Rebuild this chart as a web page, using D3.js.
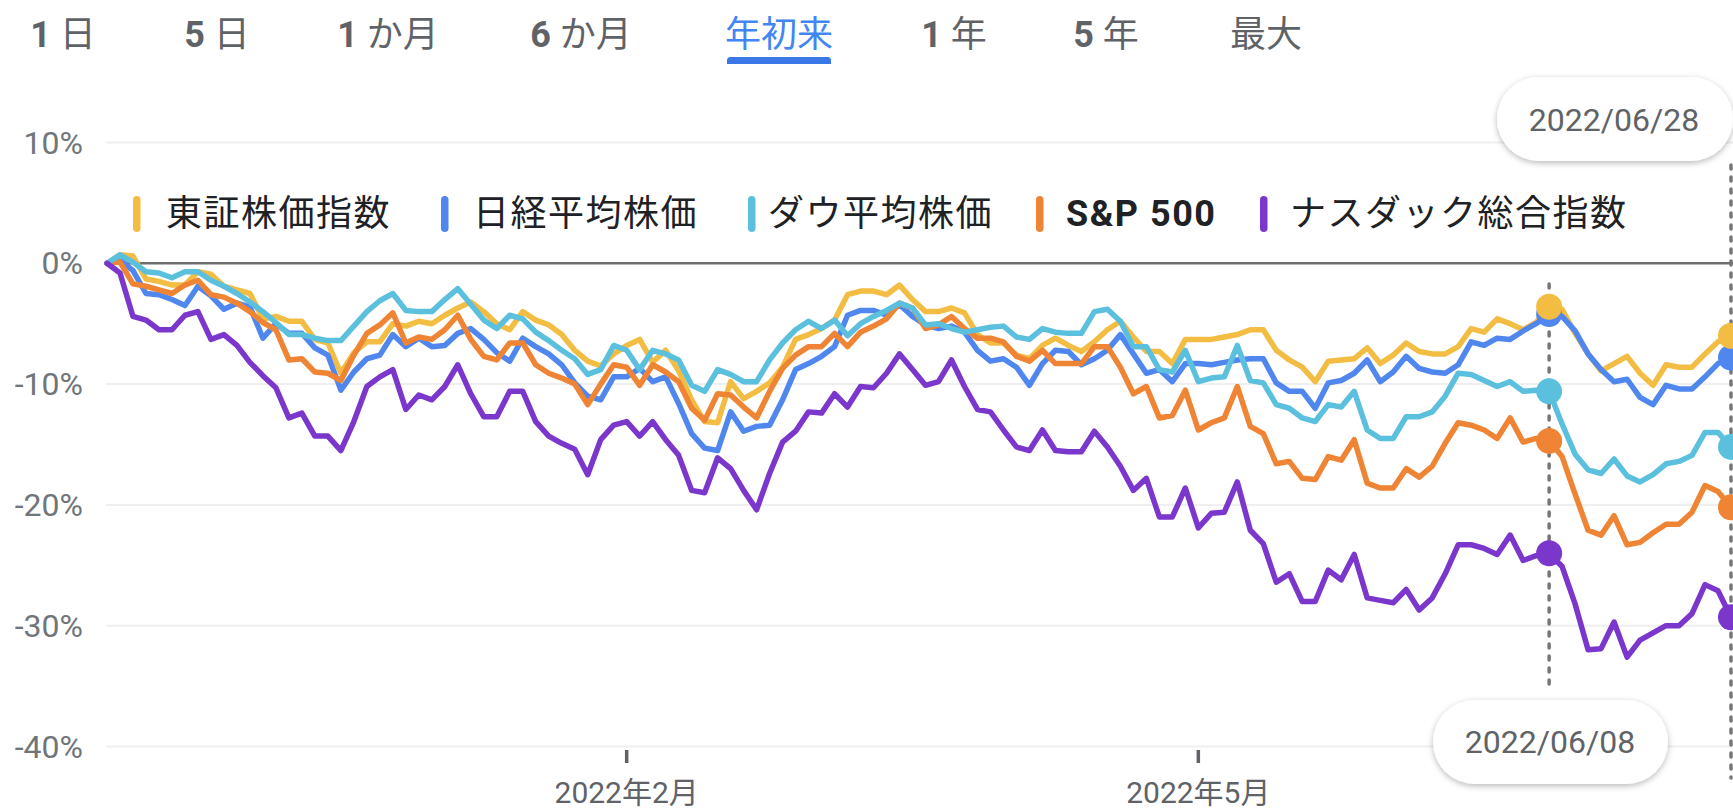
<!DOCTYPE html>
<html>
<head>
<meta charset="utf-8">
<script src="https://cdn.jsdelivr.net/npm/d3@7"></script>
<style>
  html, body { margin: 0; padding: 0; background: #ffffff; }
  svg { display: block; }
  text { font-family: Roboto, "Noto Sans CJK JP", "Noto Sans", sans-serif; }
</style>
</head>
<body>
<svg id="chart" width="1733" height="809"></svg>
<script>
// ---------- DATA ----------
const dates = [
  "2022-01-04","2022-01-05","2022-01-06","2022-01-07","2022-01-10","2022-01-11","2022-01-12","2022-01-13","2022-01-14",
  "2022-01-17","2022-01-18","2022-01-19","2022-01-20","2022-01-21","2022-01-24","2022-01-25","2022-01-26","2022-01-27","2022-01-28","2022-01-31",
  "2022-02-01","2022-02-02","2022-02-03","2022-02-04","2022-02-07","2022-02-08","2022-02-09","2022-02-10","2022-02-11",
  "2022-02-14","2022-02-15","2022-02-16","2022-02-17","2022-02-18","2022-02-21","2022-02-22","2022-02-23","2022-02-24","2022-02-25","2022-02-28",
  "2022-03-01","2022-03-02","2022-03-03","2022-03-04","2022-03-07","2022-03-08","2022-03-09","2022-03-10","2022-03-11",
  "2022-03-14","2022-03-15","2022-03-16","2022-03-17","2022-03-18","2022-03-21","2022-03-22","2022-03-23","2022-03-24","2022-03-25",
  "2022-03-28","2022-03-29","2022-03-30","2022-03-31",
  "2022-04-01","2022-04-04","2022-04-05","2022-04-06","2022-04-07","2022-04-08","2022-04-11","2022-04-12","2022-04-13","2022-04-14","2022-04-15",
  "2022-04-18","2022-04-19","2022-04-20","2022-04-21","2022-04-22","2022-04-25","2022-04-26","2022-04-27","2022-04-28","2022-04-29",
  "2022-05-02","2022-05-03","2022-05-04","2022-05-05","2022-05-06","2022-05-09","2022-05-10","2022-05-11","2022-05-12","2022-05-13",
  "2022-05-16","2022-05-17","2022-05-18","2022-05-19","2022-05-20","2022-05-23","2022-05-24","2022-05-25","2022-05-26","2022-05-27",
  "2022-05-30","2022-05-31",
  "2022-06-01","2022-06-02","2022-06-03","2022-06-06","2022-06-07","2022-06-08","2022-06-09","2022-06-10",
  "2022-06-13","2022-06-14","2022-06-15","2022-06-16","2022-06-17","2022-06-20","2022-06-21","2022-06-22","2022-06-23","2022-06-24",
  "2022-06-27","2022-06-28"
];

// % change since start of year
const topix = [
  0, 0.7, 0.6, -1.3, -1.5, -1.8, -1.8, -0.7, -0.9, -1.9,
  -2.2, -2.5, -4.6, -4.4, -4.8, -4.8, -6.3, -6.6, -9.1, -7.4,
  -6.5, -6.5, -5.0, -5.2, -4.8, -5.0, -4.3, -3.7, -3.2, -4.0,
  -5.0, -5.5, -4.0, -4.7, -5.1, -5.9, -7.2, -8.1, -8.5, -7.5,
  -6.8, -6.3, -8.2, -7.2, -8.9, -11.3, -13.1, -13.2, -9.8, -11.2,
  -10.6, -9.9, -8.6, -6.3, -5.9, -5.4, -4.7, -2.6, -2.3, -2.3,
  -2.6, -1.8, -3.0, -4.0, -4.0, -3.7, -4.1, -5.9, -6.6, -6.6,
  -7.6, -7.9, -6.8, -6.2, -6.8, -7.3, -6.5, -5.5, -4.8, -6.1,
  -7.3, -7.3, -8.3, -6.3, -6.3, -6.3, -6.1, -5.9, -5.5, -5.5,
  -7.2, -8.0, -8.6, -9.8, -8.1, -8.0, -7.9, -7.0, -8.3, -7.6,
  -6.6, -7.3, -7.5, -7.5, -6.9, -5.4, -5.7, -4.6, -5.0, -5.5,
  -4.9, -3.6, -3.8, -5.8, -7.5, -8.9, -8.3, -7.7, -9.1, -10.1,
  -8.4, -8.6, -8.6, -7.5, -6.5, -6.0
];
const nikkei = [
  0, 0.3, -0.6, -2.5, -2.6, -3.0, -3.5, -1.9, -2.7, -3.8,
  -3.3, -3.6, -6.2, -5.0, -5.8, -5.8, -7.0, -7.6, -10.5, -9.0,
  -7.9, -7.6, -5.9, -6.9, -6.2, -6.9, -6.8, -5.8, -5.4, -6.3,
  -7.4, -8.1, -6.2, -6.9, -7.5, -8.4, -9.9, -11.0, -11.3, -9.4,
  -9.4, -8.7, -9.8, -9.4, -11.6, -14.1, -15.3, -15.5, -12.3, -13.9,
  -13.5, -13.4, -11.3, -8.8, -8.3, -7.7, -6.9, -4.3, -3.9, -3.9,
  -4.3, -3.4, -4.4, -5.1, -5.4, -5.2, -5.7, -7.2, -8.1, -7.9,
  -8.6, -10.1, -8.3, -7.2, -7.3, -8.4, -7.9, -7.2, -5.9, -7.5,
  -9.1, -8.8, -9.8, -8.3, -8.3, -8.4, -8.2, -8.0, -7.9, -7.9,
  -9.9, -10.6, -10.6, -12.0, -9.9, -9.7, -9.1, -8.0, -9.8, -9.0,
  -7.7, -8.7, -9.0, -9.1, -8.4, -6.5, -6.8, -6.2, -6.3, -5.6,
  -5.0, -4.2, -4.4, -5.6, -7.5, -8.8, -9.8, -9.6, -11.1, -11.7,
  -10.1, -10.4, -10.4, -9.4, -8.3, -7.8
];
const dow = [
  0, 0.7, 0.1, -0.7, -0.8, -1.2, -0.7, -0.7, -1.4, -1.9,
  -2.5, -3.2, -4.0, -4.9, -5.9, -5.9, -6.2, -6.4, -6.4, -5.2,
  -4.0, -3.1, -2.5, -3.9, -4.0, -4.0, -3.0, -2.1, -3.4, -4.7,
  -5.4, -4.3, -4.6, -5.7, -6.4, -7.2, -7.9, -9.2, -8.8, -6.8,
  -7.2, -8.8, -7.2, -7.5, -8.0, -10.1, -10.6, -8.8, -9.2, -9.8,
  -9.8, -8.0, -6.6, -5.5, -4.8, -5.4, -4.7, -6.0, -5.0, -4.4,
  -3.9, -3.3, -3.7, -5.1, -5.0, -5.4, -5.7, -5.5, -5.3, -5.2,
  -6.1, -6.3, -5.4, -5.7, -5.8, -5.8, -4.0, -3.8, -4.8, -6.9,
  -6.9, -8.8, -9.0, -7.2, -9.8, -9.5, -9.4, -6.8, -9.7, -9.9,
  -11.7, -12.0, -12.8, -13.1, -11.7, -11.9, -10.6, -13.8, -14.5, -14.5,
  -12.7, -12.7, -12.3, -11.0, -9.1, -9.2, -9.7, -10.2, -9.8, -10.6,
  -10.5, -10.6, -13.3, -15.8, -17.1, -17.4, -16.2, -17.6, -18.1, -17.5,
  -16.6, -16.4, -15.9, -14.0, -14.0, -15.2
];
const sp500 = [
  0, 0.1, -1.7, -1.9, -2.2, -2.5, -1.8, -1.4, -2.6, -2.8,
  -3.3, -4.0, -4.9, -5.5, -8.0, -7.9, -9.0, -9.1, -9.7, -7.6,
  -5.8, -5.1, -4.1, -6.6, -6.1, -6.3, -5.5, -4.3, -6.3, -7.7,
  -8.0, -6.6, -6.6, -8.4, -9.1, -9.5, -10.0, -11.7, -10.0, -8.4,
  -8.6, -10.1, -8.4, -9.0, -9.8, -12.0, -13.0, -10.8, -10.9, -11.9,
  -12.8, -10.6, -8.7, -7.6, -6.9, -6.9, -5.8, -6.9, -5.7, -5.2,
  -4.6, -3.3, -3.7, -5.4, -5.1, -4.4, -5.4, -6.2, -6.2, -6.5,
  -7.7, -8.1, -7.2, -8.3, -8.3, -8.3, -6.9, -6.9, -8.6, -10.8,
  -10.2, -12.8, -12.6, -10.5, -13.8, -13.2, -12.8, -10.2, -13.5, -14.1,
  -16.6, -16.4, -17.8, -17.9, -16.0, -16.3, -14.6, -18.2, -18.6, -18.6,
  -17.0, -17.7, -16.8, -14.9, -13.2, -13.4, -13.8, -14.5, -12.8, -14.8,
  -14.5, -14.7, -16.0, -19.1, -22.1, -22.5, -20.9, -23.3, -23.1, -22.3,
  -21.6, -21.6, -20.6, -18.4, -18.9, -20.2
];
const nasdaq = [
  0, -0.8, -4.4, -4.7, -5.5, -5.5, -4.3, -4.0, -6.3, -5.9,
  -6.8, -8.2, -9.3, -10.3, -12.8, -12.4, -14.3, -14.3, -15.5, -13.1,
  -10.2, -9.4, -8.8, -12.1, -10.9, -11.3, -10.2, -8.4, -10.8, -12.7,
  -12.7, -10.6, -10.6, -13.1, -14.3, -14.9, -15.4, -17.5, -14.6, -13.4,
  -13.1, -14.3, -13.1, -14.6, -15.9, -18.8, -19.0, -16.1, -17.0, -18.8,
  -20.4, -17.4, -14.8, -13.9, -12.3, -12.4, -10.8, -11.9, -10.2, -10.3,
  -9.1, -7.5, -8.8, -10.1, -9.8, -8.0, -10.2, -12.1, -12.3, -13.8,
  -15.2, -15.5, -13.8, -15.5, -15.6, -15.6, -13.9, -15.2, -16.8, -18.8,
  -17.8, -21.0, -21.0, -18.6, -21.9, -20.7, -20.6, -18.1, -22.1, -23.2,
  -26.4, -25.7, -28.0, -28.0, -25.4, -26.2, -24.1, -27.7, -27.9, -28.1,
  -27.0, -28.7, -27.7, -25.7, -23.3, -23.3, -23.6, -24.1, -22.5, -24.6,
  -24.2, -24.0, -25.1, -28.2, -32.0, -31.9, -29.7, -32.6, -31.2, -30.6,
  -30.0, -30.0, -29.0, -26.6, -27.1, -29.3
];

const seriesNames  = ["東証株価指数", "日経平均株価", "ダウ平均株価", "S&P 500", "ナスダック総合指数"];
const seriesColors = ["#F2BD42", "#4F87EE", "#5BC0DE", "#EF8434", "#7B36CC"];
const seriesValues = [topix, nikkei, dow, sp500, nasdaq];

const yTicks = [10, 0, -10, -20, -30, -40];
const xTickDates  = ["2022-03-01", "2022-05-02"];
const xTickLabels = ["2022年2月", "2022年5月"];

const tabLabels = ["1 日", "5 日", "1 か月", "6 か月", "年初来", "1 年", "5 年", "最大"];
const activeTab = "年初来";

const markerDates = ["2022-06-08", "2022-06-28"];
const markerLabels = ["2022/06/08", "2022/06/28"];

// ---------- LAYOUT ----------
const W = 1733, H = 809;
const svg = d3.select("#chart");

const x = d3.scalePoint().domain(dates).range([107, 1731]);
const y = d3.scaleLinear().domain([-40, 10]).range([746.5, 142.5]);

const defs = svg.append("defs");
const f = defs.append("filter").attr("id", "shadow")
  .attr("x", "-20%").attr("y", "-30%").attr("width", "140%").attr("height", "170%");
f.append("feDropShadow").attr("dx", 0).attr("dy", 2).attr("stdDeviation", 3)
  .attr("flood-color", "#000").attr("flood-opacity", 0.28);

// ---- tabs ----
const tabCenters = [63, 217, 388, 581, 779, 954, 1106, 1266];
const tabs = svg.append("g");
tabLabels.forEach((lab, i) => {
  const t = tabs.append("text")
    .attr("x", tabCenters[i]).attr("y", 47)
    .attr("text-anchor", "middle")
    .attr("font-size", 36)
    .attr("fill", lab === activeTab ? "#4285F4" : "#5f6368");
  const parts = lab.split(/(\d+)/).filter(s => s.length);
  parts.forEach(p => {
    t.append("tspan").text(p)
      .attr("font-weight", /\d/.test(p) ? 700 : 400);
  });
});
{
  const i = tabLabels.indexOf(activeTab);
  const cx = tabCenters[i], w = 104, h = 7, yTop = 57, r = 3.5;
  const x0 = cx - w / 2;
  tabs.append("path")
    .attr("d", `M${x0},${yTop + h} L${x0},${yTop + r} Q${x0},${yTop} ${x0 + r},${yTop} L${x0 + w - r},${yTop} Q${x0 + w},${yTop} ${x0 + w},${yTop + r} L${x0 + w},${yTop + h} Z`)
    .attr("fill", "#3B78E7");
}

// ---- grid ----
const grid = svg.append("g");
grid.selectAll("line.g").data(yTicks.filter(d => d !== 0)).join("line")
  .attr("x1", 106).attr("x2", W)
  .attr("y1", d => y(d)).attr("y2", d => y(d))
  .attr("stroke", "#efefef").attr("stroke-width", 2);
grid.append("line")
  .attr("x1", 107).attr("x2", W)
  .attr("y1", y(0)).attr("y2", y(0))
  .attr("stroke", "#6e6e6e").attr("stroke-width", 2.5);

grid.selectAll("text.yl").data(yTicks).join("text")
  .attr("x", 83).attr("y", d => y(d) + 11)
  .attr("text-anchor", "end")
  .attr("font-size", 32)
  .attr("fill", "#70757a")
  .text(d => d + "%");

// ---- x axis ticks ----
const xa = svg.append("g");
xTickDates.forEach((d, i) => {
  xa.append("line")
    .attr("x1", x(d)).attr("x2", x(d)).attr("y1", 750).attr("y2", 763)
    .attr("stroke", "#5f6368").attr("stroke-width", 3.5);
  xa.append("text")
    .attr("x", x(d)).attr("y", 803)
    .attr("text-anchor", "middle")
    .attr("font-size", 30)
    .attr("fill", "#5f6368")
    .text(xTickLabels[i]);
});

// ---- vertical dotted guides ----
const guides = svg.append("g");
guides.append("line")
  .attr("x1", x(markerDates[0])).attr("x2", x(markerDates[0]))
  .attr("y1", 284).attr("y2", 686)
  .attr("stroke", "#757575").attr("stroke-width", 3.5)
  .attr("stroke-dasharray", "4 8").attr("stroke-linecap", "round");
guides.append("line")
  .attr("x1", x(markerDates[1])).attr("x2", x(markerDates[1]))
  .attr("y1", 165).attr("y2", 778)
  .attr("stroke", "#757575").attr("stroke-width", 3.5)
  .attr("stroke-dasharray", "4 8").attr("stroke-linecap", "round");

// ---- lines ----
const line = d3.line()
  .x((v, i) => x(dates[i]))
  .y(v => y(v));
const drawOrder = [0, 1, 3, 2, 4];
const lines = svg.append("g");
drawOrder.forEach(s => {
  lines.append("path")
    .attr("d", line(seriesValues[s]))
    .attr("fill", "none")
    .attr("stroke", seriesColors[s])
    .attr("stroke-width", 5.5)
    .attr("stroke-linejoin", "round")
    .attr("stroke-linecap", "round");
});

// ---- markers ----
const markers = svg.append("g");
markerDates.forEach(md => {
  const idx = dates.indexOf(md);
  [4, 3, 2, 1, 0].forEach(s => {
    markers.append("circle")
      .attr("cx", x(md)).attr("cy", y(seriesValues[s][idx]))
      .attr("r", 13)
      .attr("fill", seriesColors[s]);
  });
});

// ---- date pills ----
function pill(x0, y0, w, h, label, tx, ty) {
  const g = svg.append("g");
  g.append("rect").attr("x", x0).attr("y", y0).attr("width", w).attr("height", h)
    .attr("rx", h / 2).attr("ry", h / 2)
    .attr("fill", "#ffffff").attr("filter", "url(#shadow)");
  g.append("text").attr("x", tx).attr("y", ty)
    .attr("text-anchor", "middle").attr("font-size", 32).attr("fill", "#5f6368")
    .text(label);
}
pill(1497, 77, 236, 84, markerLabels[1], 1614, 131);
pill(1433, 700, 235, 84, markerLabels[0], 1550, 753);

// ---- legend ----
const legSwatchX = [133, 441, 748, 1036, 1260];
const legTextX   = [166, 473, 768, 1066, 1290];
const legend = svg.append("g");
seriesNames.forEach((n, i) => {
  legend.append("rect")
    .attr("x", legSwatchX[i]).attr("y", 196).attr("width", 7.5).attr("height", 36)
    .attr("rx", 3.75).attr("fill", seriesColors[i]);
  legend.append("text")
    .attr("x", legTextX[i]).attr("y", 226)
    .attr("font-size", 36)
    .attr("letter-spacing", 1.5)
    .attr("font-weight", n === "S&P 500" ? 700 : 400)
    .attr("fill", "#202124")
    .text(n);
});
</script>
</body>
</html>
